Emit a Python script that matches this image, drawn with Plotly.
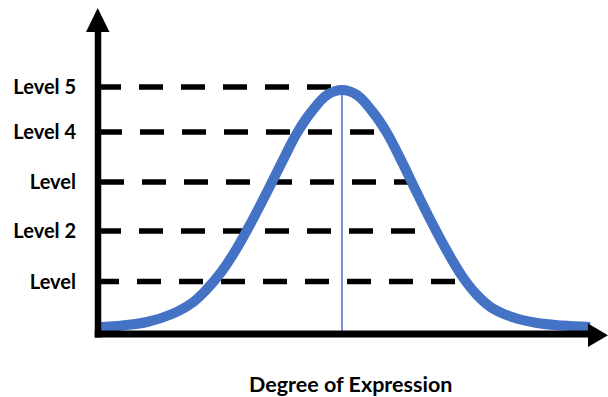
import plotly.graph_objects as go

# ---- data ----
level_labels = ["Level", "Level 2", "Level", "Level 4", "Level 5"]
level_values = [1.05, 2.06, 3.04, 4.04, 4.94]
level_line_start = [-0.3, -0.1, 0.2, 0.0, -0.1]
level_line_end = [36.0, 33.7, 31.8, 28.7, 23.4]

curve_x = [0.1, 2.4, 4.9, 7.4, 9.4, 10.9, 12.4, 13.9, 15.4, 16.9, 18.4, 19.9,
           21.4, 22.9, 24.4, 25.9, 27.4, 28.9, 30.4, 31.9, 33.4, 34.9, 36.4,
           37.9, 39.4, 41.4, 43.9, 46.4, 49.2]
curve_y = [0.14, 0.17, 0.24, 0.40, 0.62, 0.90, 1.26, 1.72, 2.26, 2.84, 3.44, 4.02,
           4.46, 4.78, 4.88, 4.78, 4.46, 4.02, 3.44, 2.82, 2.22, 1.66, 1.16,
           0.78, 0.52, 0.34, 0.22, 0.17, 0.14]

peak_x = 24.4
peak_y = 4.88

x_title = "Degree of Expression"

# ---- layout geometry (pixels) ----
W, H = 608, 397
L, T, B = 98, 8, 334  # plot area left, top, bottom
R = W
PW, PH = R - L, B - T


def px(x):
    return (x - L) / PW


def py(y):
    return (B - y) / PH


BLUE = "#4472C4"
FONT = dict(family="Lato, 'Open Sans', sans-serif", size=20, color="black", weight="bold")
TITLE_FONT = dict(FONT, size=21.5)

fig = go.Figure()

for v, x0, x1 in zip(level_values, level_line_start, level_line_end):
    fig.add_trace(go.Scatter(
        x=[x0, x1], y=[v, v], mode="lines",
        line=dict(color="black", width=5.5, dash="24px,18px"),
        hoverinfo="skip", showlegend=False))

fig.add_trace(go.Scatter(
    x=[peak_x, peak_x], y=[0, peak_y], mode="lines",
    line=dict(color=BLUE, width=1.5), hoverinfo="skip", showlegend=False))

fig.add_trace(go.Scatter(
    x=curve_x, y=curve_y, mode="lines",
    line=dict(color=BLUE, width=10, shape="spline", smoothing=1),
    hoverinfo="skip", showlegend=False))

shapes = [
    # y axis
    dict(type="line", xref="paper", yref="paper", x0=px(98), x1=px(98),
         y0=py(337.5), y1=py(30), line=dict(color="black", width=6.5)),
    # x axis
    dict(type="line", xref="paper", yref="paper", x0=px(94.75), x1=px(590),
         y0=py(334), y1=py(334), line=dict(color="black", width=7)),
    # arrow heads
    dict(type="path", xref="paper", yref="paper",
         path=f"M {px(86)} {py(32)} L {px(109.5)} {py(32)} L {px(97.7)} {py(8)} Z",
         fillcolor="black", line=dict(width=0)),
    dict(type="path", xref="paper", yref="paper",
         path=f"M {px(588)} {py(323.5)} L {px(588)} {py(347)} L {px(608)} {py(335.2)} Z",
         fillcolor="black", line=dict(width=0)),
]

fig.update_layout(
    width=W, height=H,
    margin=dict(l=L, r=W - R, t=T, b=H - B, pad=0),
    paper_bgcolor="white", plot_bgcolor="white",
    showlegend=False,
    shapes=shapes,
    xaxis=dict(range=[0, PW / 10], showgrid=False, zeroline=False, showline=False,
               showticklabels=False, ticks="", fixedrange=True),
    yaxis=dict(range=[0, PH / 50], showgrid=False, zeroline=False, showline=False,
               ticks="", tickvals=level_values, ticktext=level_labels,
               tickfont=FONT, ticklabelstandoff=21, fixedrange=True),
    annotations=[dict(text=x_title, xref="paper", yref="paper",
                      x=px(350), y=py(384), xanchor="center", yanchor="middle",
                      showarrow=False, font=TITLE_FONT)],
)

fig.write_html(
    "out.html",
    config={"displayModeBar": False},
    post_script="document.body.style.margin='0';document.body.style.overflow='hidden';",
)
